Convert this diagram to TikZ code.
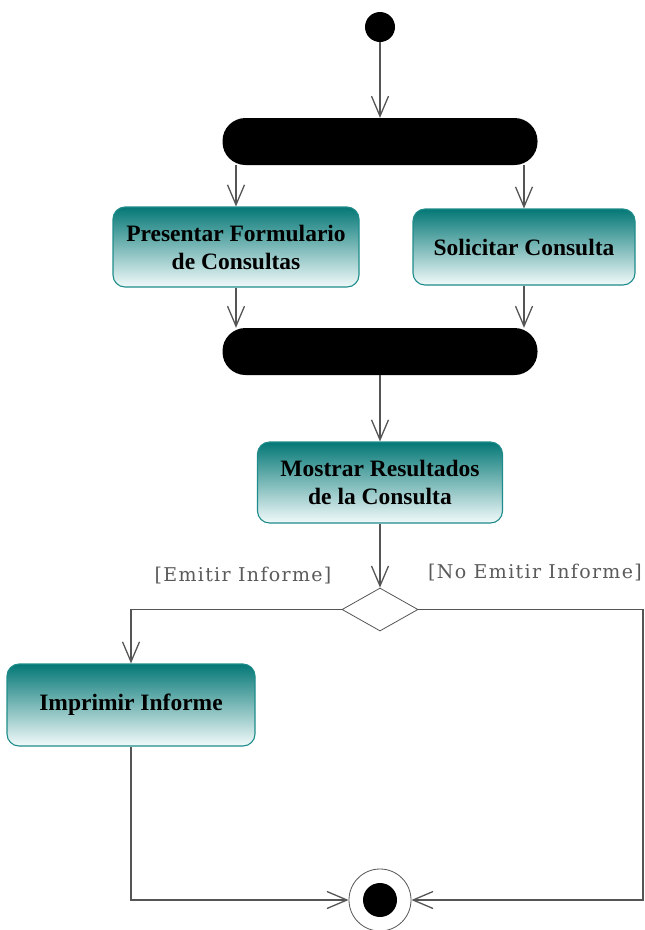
\documentclass[tikz,border=0pt]{standalone}
\usepackage{fontspec}
\setmainfont{Liberation Serif}
\newfontfamily\guardfont[LetterSpace=7]{DejaVu Serif}
\usetikzlibrary{arrows.meta,shapes.geometric}
\definecolor{tealtop}{RGB}{4,120,118}
\definecolor{tealmid}{RGB}{72,160,158}
\definecolor{tealbot}{RGB}{242,250,250}
\definecolor{tealedge}{RGB}{30,140,138}
\definecolor{flow}{RGB}{85,85,85}
\definecolor{guardgray}{RGB}{90,90,90}
\begin{document}
\begin{tikzpicture}[x=1pt,y=-1pt,
  activity/.style={rectangle,rounded corners=12pt,draw=tealedge,line width=1.1pt,
    top color=tealtop,middle color=tealmid,bottom color=tealbot,
    align=center,inner sep=2pt,
    font=\fontsize{23.5}{28}\selectfont\bfseries},
  syncbar/.style={rectangle,rounded corners=23pt,fill=black,inner sep=0pt,
    minimum width=315pt,minimum height=47pt},
  flowline/.style={draw=flow,line width=1.3pt},
  arr/.style={flowline,-{Straight Barb[length=20pt,width=17pt,line width=1.3pt]}},
  guard/.style={text=guardgray,font=\guardfont\fontsize{19}{22}\selectfont}
]
\useasboundingbox (0,0) rectangle (645,930);

% start / end
\node[circle,fill=black,inner sep=0pt,minimum size=30pt] (start) at (380,27) {};
\node[circle,draw=flow,line width=0.8pt,fill=white,inner sep=0pt,minimum size=62pt] (fin) at (380,900) {};
\node[circle,fill=black,inner sep=0pt,minimum size=34pt] at (fin.center) {};

% fork and join bars
\node[syncbar] (fork) at (380,141.5) {};
\node[syncbar] (join) at (380,351.5) {};

% activities
\node[activity,minimum width=246pt,minimum height=80pt] (form) at (236,247)
  {Presentar Formulario\\de Consultas};
\node[activity,minimum width=222pt,minimum height=76pt] (solic) at (524,247)
  {Solicitar Consulta};
\node[activity,minimum width=245pt,minimum height=81pt] (show) at (380,482.5)
  {Mostrar Resultados\\de la Consulta};
\node[activity,minimum width=248pt,minimum height=82pt] (print) at (131,705)
  {Imprimir Informe};

% decision
\node[diamond,draw=flow,line width=0.8pt,fill=white,inner sep=0pt,
  minimum width=76pt,minimum height=43pt] (dec) at (380,609.5) {};

% guards
\node[guard] (gyes) at (243,576) {[Emitir Informe]};
\node[guard] (gno) at (535,573) {[No Emitir Informe]};

% flows
\coordinate (rc) at (643,900);
\draw[arr] (start) -- (fork);
\draw[arr] (fork.south -| form.north) -- (form.north);
\draw[arr] (fork.south -| solic.north) -- (solic.north);
\draw[arr] (form.south) -- (join.north -| form.south);
\draw[arr] (solic.south) -- (join.north -| solic.south);
\draw[arr] (join.south) -- (show.north);
\draw[arr] (show.south) -- (dec.north);
\draw[arr] (dec.west) -| (print.north);
\draw[arr] (print.south) |- (fin.west);
\draw[arr] (dec.east) -| (rc) -- (fin.east);
\end{tikzpicture}
\end{document}
